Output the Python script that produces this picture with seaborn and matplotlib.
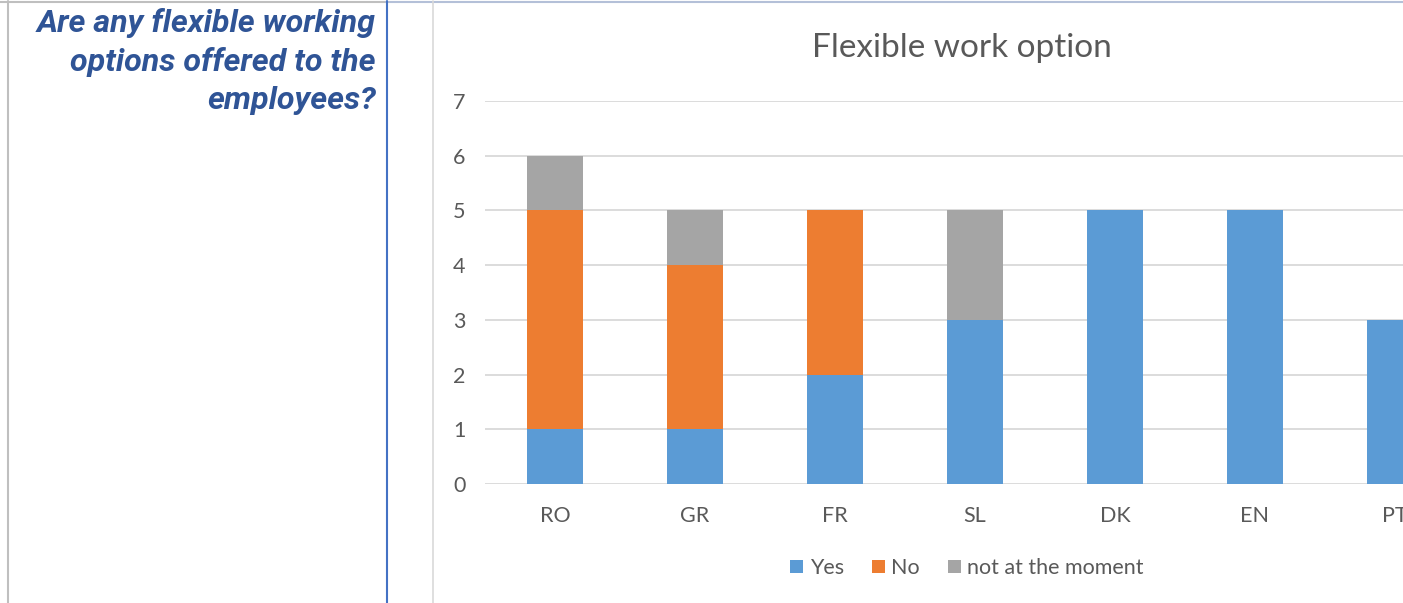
import matplotlib
matplotlib.use("Agg")
import matplotlib.pyplot as plt
import seaborn as sns
import pandas as pd
from matplotlib.lines import Line2D
from matplotlib.patches import Patch

# Survey answers per country
countries = ["RO", "GR", "FR", "SL", "DK", "EN", "PT"]
yes = [1, 1, 2, 3, 5, 5, 3]
no = [4, 3, 3, 0, 0, 0, 0]
not_now = [1, 1, 0, 2, 0, 0, 0]
series_names = ["Yes", "No", "not at the moment"]
series_colors = ["#5B9BD5", "#ED7D31", "#A5A5A5"]
y_ticks = [0, 1, 2, 3, 4, 5, 6, 7]

question = "Are any flexible working\noptions offered to the\nemployees?"
chart_title = "Flexible work option"

sns.set_theme(style="white")
plt.rcParams["font.family"] = ["Lato", "DejaVu Sans"]

W, H = 1403, 603
fig = plt.figure(figsize=(W / 100, H / 100), dpi=100)
fig.patch.set_facecolor("white")

# Table cell borders around the question and the chart
def vline(x, color, lw):
    fig.add_artist(Line2D([x / W, x / W], [0, 1 - 1 / H], color=color, lw=lw,
                          transform=fig.transFigure))

fig.add_artist(Line2D([0, 386 / W], [1 - 2 / H, 1 - 2 / H], color="#BFBFBF", lw=1.5,
                      transform=fig.transFigure))
fig.add_artist(Line2D([386 / W, 1], [1 - 2 / H, 1 - 2 / H], color="#B4C0D8", lw=1.5,
                      transform=fig.transFigure))
vline(7.5, "#BFBFBF", 1.5)
vline(386.5, "#4472C4", 1.5)
vline(433.5, "#D9D9D9", 1.2)

fig.text(376 / W, 1 - 8 / H, question, ha="right", va="top", color="#2F5496",
         fontsize=23.2, fontweight="bold", fontstyle="italic",
         family=["Roboto", "DejaVu Sans"], linespacing=1.38)

# Stacked bar chart: each series sits on the running total of the previous ones
df = pd.DataFrame({"country": countries, "Yes": yes, "No": no,
                   "not at the moment": not_now})
ax = fig.add_axes([485 / W, (H - 484) / H, (W - 485) / W, (484 - 101) / H])
running = [0] * len(countries)
tops = []
for name in series_names:
    running = [r + v for r, v in zip(running, df[name].tolist())]
    tops.append(running)
# Draw tallest cumulative layer first so the lower layers cover it
for name, color, top in reversed(list(zip(series_names, series_colors, tops))):
    sns.barplot(x=df["country"], y=top, color=color, width=0.4, ax=ax,
                saturation=1, linewidth=0, zorder=3)

ax.set_xlim(-0.5, (W - 555) / 140)
ax.set_ylim(0, 7)
ax.set_yticks(y_ticks)
ax.set_xlabel("")
ax.set_ylabel("")
ax.yaxis.grid(True, color="#D9D9D9", lw=1.3, zorder=0)
ax.set_axisbelow(True)
for s in ax.spines.values():
    s.set_visible(False)
ax.tick_params(axis="both", length=0, colors="#595959", labelsize=15.5)
ax.tick_params(axis="y", pad=14)
ax.tick_params(axis="x", pad=16)
ax.set_facecolor("white")

fig.text(962 / W, 1 - 48 / H, chart_title, ha="center", va="center",
         color="#595959", fontsize=24)

handles = [Patch(facecolor=c, edgecolor="none", label=n)
           for n, c in zip(series_names, series_colors)]
fig.legend(handles=handles, loc="center", bbox_to_anchor=(967 / W, 1 - 568 / H),
           ncol=3, frameon=False, fontsize=15.5, handlelength=0.6, handleheight=0.6,
           handletextpad=0.3, columnspacing=1.3, labelcolor="#595959")

fig.savefig("out.png", dpi=100, facecolor="white")
